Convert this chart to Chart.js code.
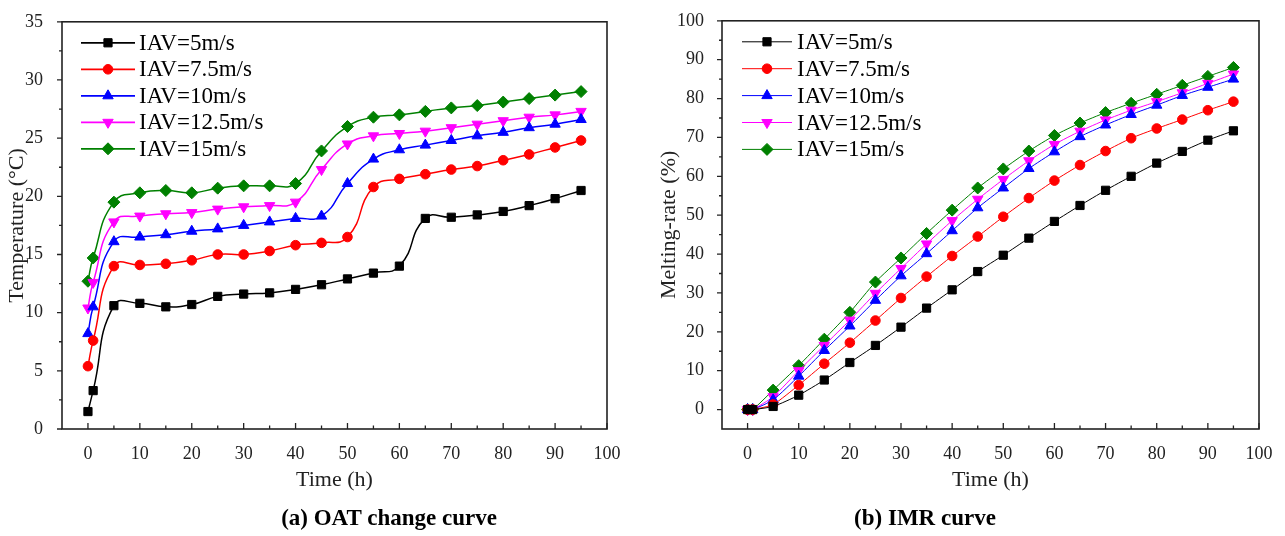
<!DOCTYPE html>
<html>
<head>
<meta charset="utf-8">
<script src="https://cdn.jsdelivr.net/npm/chart.js@4.4.0/dist/chart.umd.min.js"></script>
<style>
  body { margin: 0; background: #fff; width: 1285px; height: 536px; position: relative; overflow: hidden;
         font-family: "Liberation Serif", "Times New Roman", serif; }
  canvas { position: absolute; top: 0; }
  #oatChart { left: 0; }
  #imrChart { left: 640px; }
  .cap { position: absolute; top: 505px; line-height: 26px; font-size: 23px; font-weight: bold;
         transform: translateX(-50%); white-space: nowrap; color: #000; }
</style>
</head>
<body>
<canvas id="oatChart" width="640" height="536"></canvas>
<canvas id="imrChart" width="645" height="536"></canvas>
<div class="cap" style="left:389px">(a) OAT change curve</div>
<div class="cap" style="left:925px">(b) IMR curve</div>
<script>
// time points (h)
const time = [0, 1, 5, 10, 15, 20, 25, 30, 35, 40, 45, 50, 55, 60, 65, 70, 75, 80, 85, 90, 95];
const seriesNames = ["IAV=5m/s", "IAV=7.5m/s", "IAV=10m/s", "IAV=12.5m/s", "IAV=15m/s"];

// (a) outlet air temperature, °C
const oat5   = [1.5, 3.3, 10.6, 10.8, 10.5, 10.7, 11.4, 11.6, 11.7, 12.0, 12.4, 12.9, 13.4, 14.0, 18.1, 18.2, 18.4, 18.7, 19.2, 19.8, 20.5];
const oat7_5 = [5.4, 7.6, 14.0, 14.1, 14.2, 14.5, 15.0, 15.0, 15.3, 15.8, 16.0, 16.5, 20.8, 21.5, 21.9, 22.3, 22.6, 23.1, 23.6, 24.2, 24.8];
const oat10  = [8.2, 10.5, 16.1, 16.5, 16.7, 17.0, 17.2, 17.5, 17.8, 18.1, 18.3, 21.1, 23.2, 24.0, 24.4, 24.8, 25.2, 25.5, 25.9, 26.2, 26.6];
const oat12_5 = [10.4, 12.6, 17.8, 18.3, 18.5, 18.6, 18.9, 19.1, 19.2, 19.5, 22.3, 24.5, 25.2, 25.4, 25.6, 25.9, 26.2, 26.5, 26.8, 27.0, 27.3];
const oat15  = [12.7, 14.7, 19.5, 20.3, 20.5, 20.3, 20.7, 20.9, 20.9, 21.1, 23.9, 26.0, 26.8, 27.0, 27.3, 27.6, 27.8, 28.1, 28.4, 28.7, 29.0];

// (b) ice melting rate, %
const imr5   = [0, 0, 0.8, 3.7, 7.6, 12.1, 16.5, 21.2, 26.1, 30.8, 35.5, 39.7, 44.1, 48.4, 52.5, 56.4, 60.0, 63.4, 66.4, 69.3, 71.7];
const imr7_5 = [0, 0, 1.3, 6.3, 11.8, 17.2, 22.9, 28.7, 34.2, 39.5, 44.5, 49.6, 54.4, 58.9, 62.9, 66.5, 69.8, 72.3, 74.6, 77.0, 79.2];
const imr10  = [0, 0, 2.5, 8.6, 15.2, 21.5, 28.1, 34.4, 40.1, 46.0, 51.9, 57.0, 62.0, 66.3, 70.2, 73.2, 75.9, 78.3, 80.8, 82.9, 85.0];
const imr12_5 = [0, 0, 3.3, 10.0, 16.5, 23.0, 29.9, 36.3, 42.6, 48.6, 54.1, 59.2, 64.0, 68.2, 71.6, 74.5, 77.0, 79.2, 81.5, 83.9, 86.3];
const imr15  = [0, 0, 5.0, 11.3, 18.1, 25.0, 32.8, 39.0, 45.3, 51.3, 57.0, 61.9, 66.5, 70.5, 73.7, 76.4, 78.8, 81.1, 83.4, 85.7, 88.0];

// tick labels
const timeTicks = [0, 10, 20, 30, 40, 50, 60, 70, 80, 90, 100];
const oatTicks = [0, 5, 10, 15, 20, 25, 30, 35];
const imrTicks = [0, 10, 20, 30, 40, 50, 60, 70, 80, 90, 100];

const looks = [
  { color: "#000000", pointStyle: "rect", radius: 5.8, rotation: 0 },
  { color: "#ff0000", pointStyle: "circle", radius: 4.8, rotation: 0 },
  { color: "#0000ff", pointStyle: "triangle", radius: 6, rotation: 0 },
  { color: "#ff00ff", pointStyle: "triangle", radius: 6, rotation: 180 },
  { color: "#008000", pointStyle: "rectRot", radius: 6, rotation: 0 }
];

const SERIF = "'Liberation Serif', 'Times New Roman', serif";

function makeDatasets(series, lineWidth, tension) {
  return series.map((vals, i) => ({
    label: seriesNames[i],
    data: vals.map((v, j) => ({ x: time[j], y: v })),
    borderColor: looks[i].color,
    backgroundColor: looks[i].color,
    pointBackgroundColor: looks[i].color,
    pointBorderColor: looks[i].color,
    pointBorderWidth: 1,
    pointStyle: looks[i].pointStyle,
    pointRotation: looks[i].rotation,
    pointRadius: looks[i].radius,
    borderWidth: lineWidth,
    tension: tension
  }));
}

// box frame + Origin-style ticks (x inward, y outward, with minor ticks)
const framePlugin = {
  id: "frame",
  beforeDatasetsDraw(chart) {
    const { ctx, chartArea: a, scales: { x, y } } = chart;
    ctx.save();
    ctx.strokeStyle = "#222";
    ctx.lineWidth = 1.6;
    ctx.strokeRect(a.left, a.top, a.right - a.left, a.bottom - a.top);
    ctx.lineWidth = 1.3;
    ctx.beginPath();
    x.ticks.forEach((t, i) => {
      const px = x.getPixelForValue(t.value);
      ctx.moveTo(px, a.bottom); ctx.lineTo(px, a.bottom - 6);
      const nx = x.ticks[i + 1];
      if (nx) {
        const m = x.getPixelForValue((t.value + nx.value) / 2);
        ctx.moveTo(m, a.bottom); ctx.lineTo(m, a.bottom - 3.5);
      }
    });
    y.ticks.forEach((t, i) => {
      const py = y.getPixelForValue(t.value);
      ctx.moveTo(a.left, py); ctx.lineTo(a.left - 5, py);
      const nx = y.ticks[i + 1];
      if (nx) {
        const m = y.getPixelForValue((t.value + nx.value) / 2);
        ctx.moveTo(a.left, m); ctx.lineTo(a.left - 3, m);
      }
    });
    ctx.stroke();
    ctx.restore();
  }
};

// legend drawn inside the plot: line segment + marker + label
const innerLegend = {
  id: "innerLegend",
  afterDraw(chart, args, o) {
    const { ctx, chartArea: a } = chart;
    ctx.save();
    ctx.font = o.fontSize + "px " + SERIF;
    ctx.textBaseline = "middle";
    chart.data.datasets.forEach((ds, i) => {
      const yy = a.top + o.y + i * o.gap;
      const x0 = a.left + o.x;
      ctx.strokeStyle = ds.borderColor;
      ctx.lineWidth = o.lineWidth;
      ctx.beginPath();
      ctx.moveTo(x0, yy); ctx.lineTo(x0 + o.len, yy);
      ctx.stroke();
      ctx.fillStyle = ds.pointBackgroundColor;
      ctx.lineWidth = 1;
      Chart.helpers.drawPoint(ctx, {
        pointStyle: ds.pointStyle, rotation: ds.pointRotation, radius: ds.pointRadius, borderWidth: 1
      }, x0 + o.len / 2, yy);
      ctx.fillStyle = "#000";
      ctx.fillText(ds.label, x0 + o.len + o.textGap, yy + 1);
    });
    ctx.restore();
  }
};

function makeOptions(cfg) {
  const tickFont = { family: SERIF, size: 18 };
  const titleFont = { family: SERIF, size: 22 };
  return {
    responsive: false,
    animation: false,
    devicePixelRatio: 1,
    layout: { padding: cfg.padding },
    plugins: {
      legend: { display: false },
      tooltip: { enabled: false },
      innerLegend: cfg.legend
    },
    scales: {
      x: {
        type: "linear", min: -5, max: 100,
        grid: { display: false }, border: { display: false },
        afterBuildTicks: s => { s.ticks = timeTicks.map(v => ({ value: v })); },
        afterFit: s => { s.height = 70; },
        ticks: { color: "#222", font: tickFont, padding: 6, maxRotation: 0 },
        title: { display: true, text: "Time (h)", color: "#222", font: titleFont, padding: { top: 0, bottom: 6 } }
      },
      y: {
        type: "linear", min: cfg.yMin, max: cfg.yMax,
        grid: { display: false }, border: { display: false },
        afterBuildTicks: s => { s.ticks = cfg.yTicks.map(v => ({ value: v })); },
        afterFit: s => { s.width = cfg.yWidth; },
        ticks: { color: "#222", font: tickFont, padding: cfg.yPad },
        title: { display: true, text: cfg.yTitle, color: "#222", font: titleFont, padding: { top: cfg.yTitlePad, bottom: 0 } }
      }
    }
  };
}

new Chart(document.getElementById("oatChart"), {
  type: "line",
  data: { datasets: makeDatasets([oat5, oat7_5, oat10, oat12_5, oat15], 1.5, 0.5) },
  options: makeOptions({
    padding: { left: 0, top: 12, right: 33, bottom: 37 },
    yMin: 0, yMax: 35, yTicks: oatTicks, yWidth: 62, yPad: 11,
    yTitle: "Temperature (°C)", yTitlePad: 4,
    legend: { x: 19, y: 21, gap: 26.5, len: 54, textGap: 4, lineWidth: 1.8, fontSize: 23 }
  }),
  plugins: [framePlugin, innerLegend]
});

new Chart(document.getElementById("imrChart"), {
  type: "line",
  data: { datasets: makeDatasets([imr5, imr7_5, imr10, imr12_5, imr15], 1, 0.2) },
  options: makeOptions({
    padding: { left: 0, top: 12, right: 26, bottom: 37 },
    yMin: -5, yMax: 100, yTicks: imrTicks, yWidth: 82, yPad: 10,
    yTitle: "Melting-rate (%)", yTitlePad: 16,
    legend: { x: 20, y: 21, gap: 26.9, len: 50, textGap: 5, lineWidth: 1, fontSize: 23 }
  }),
  plugins: [framePlugin, innerLegend]
});
</script>
</body>
</html>
